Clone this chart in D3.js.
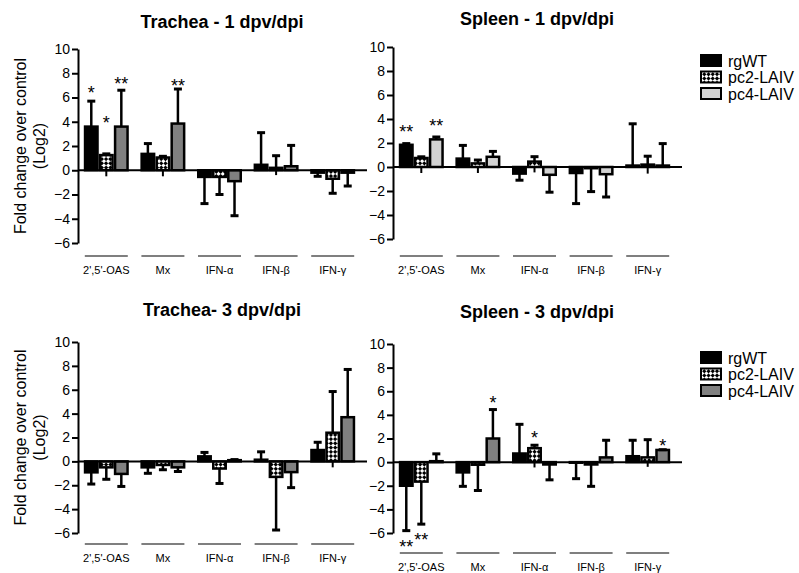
<!DOCTYPE html>
<html>
<head>
<meta charset="utf-8">
<script src="https://cdn.jsdelivr.net/npm/d3@7"></script>
<style>
  body { margin: 0; background: #fff; }
  text { font-family: "Liberation Sans", Arial, sans-serif; }
</style>
</head>
<body>
<div id="chart"></div>
<script>
var categories = ["2',5'-OAS", "Mx", "IFN-\u03b1", "IFN-\u03b2", "IFN-\u03b3"];
var series = ["rgWT", "pc2-LAIV", "pc4-LAIV"];
var yTicks = [10, 8, 6, 4, 2, 0, -2, -4, -6];

// Trachea - 1 dpv/dpi  (rows: rgWT, pc2-LAIV, pc4-LAIV)
var trachea1Mean = [
    [3.6, 1.35, -0.55, 0.45, -0.2],
    [1.25, 1.05, -0.55, 0.2, -0.7],
    [3.6, 3.85, -0.9, 0.33, -0.2]
];
var trachea1Err = [
    [5.7, 2.2, -2.75, 3.1, -0.5],
    [1.35, 1.15, -2.0, 1.2, -1.9],
    [6.6, 6.7, -3.75, 2.05, -1.3]
];
var trachea1Tail = [null, null, null, null, null, -0.5, -0.5, null, -0.4, null];
// stars: [series index, category index, label, y value]
var trachea1Stars = [[0, 0, "*", 6.8], [1, 0, "*", 4.35], [2, 0, "**", 7.5], [2, 1, "**", 7.35]];

// Spleen - 1 dpv/dpi
var spleen1Mean = [
    [1.85, 0.7, -0.55, -0.5, 0.12],
    [0.75, 0.3, 0.45, -0.1, 0.2],
    [2.3, 0.85, -0.65, -0.6, 0.12]
];
var spleen1Err = [
    [1.95, 1.8, -1.1, -3.05, 3.6],
    [0.85, 0.58, 0.86, -2.05, 0.9],
    [2.5, 1.3, -2.1, -2.5, 1.95]
];
var spleen1Tail = [null, null, null, null, null, -0.5, -0.5, -0.45, null, -0.55];
var spleen1Stars = [[0, 0, "**", 3.3], [2, 0, "**", 3.8]];

// Trachea- 3 dpv/dpi
var trachea3Mean = [
    [-0.92, -0.5, 0.42, 0.14, 0.95],
    [-0.5, -0.3, -0.6, -1.3, 2.4],
    [-1.05, -0.5, 0.1, -0.9, 3.7]
];
var trachea3Err = [
    [-1.9, -1.0, 0.75, 0.8, 1.6],
    [-1.5, -0.7, -1.85, -5.75, 5.85],
    [-2.1, -0.85, 0.15, -2.2, 7.7]
];
var trachea3Tail = [null, null, null, null, null, null, null, null, null, -0.5];
var trachea3Stars = [];

// Spleen - 3 dpv/dpi
var spleen3Mean = [
    [-2.0, -0.87, 0.73, -0.05, 0.5],
    [-1.65, -0.22, 1.18, -0.2, 0.4],
    [0.08, 2.0, -0.2, 0.4, 1.03]
];
var spleen3Err = [
    [-5.8, -2.05, 3.2, -1.4, 1.85],
    [-5.25, -2.4, 1.43, -2.05, 1.9],
    [0.7, 4.45, -1.5, 1.85, 1.05]
];
var spleen3Tail = [null, null, null, null, null, null, null, -0.45, null, -0.4];
var spleen3Stars = [[0, 0, "**", -6.8], [1, 0, "**", -6.2], [2, 1, "*", 5.4], [1, 2, "*", 2.45], [2, 4, "*", 1.8]];

var svg = d3.select("#chart").append("svg")
    .attr("width", 799)
    .attr("height", 573);

var defs = svg.append("defs");
var pat = defs.append("pattern")
    .attr("id", "checker")
    .attr("width", 6).attr("height", 6)
    .attr("patternUnits", "userSpaceOnUse")
    .attr("patternTransform", "rotate(45)");
pat.append("rect").attr("width", 6).attr("height", 6).attr("fill", "#fff");
pat.append("rect").attr("width", 3).attr("height", 3).attr("fill", "#000");
pat.append("rect").attr("x", 3).attr("y", 3).attr("width", 3).attr("height", 3).attr("fill", "#000");

function drawPanel(p) {
    var g = svg.append("g");
    var y = d3.scaleLinear().domain([-6, 10]).range([p.yBot, p.yTop]);
    var x = d3.scaleBand().domain(categories).range([p.x0, p.x0 + 283]);
    var xs = d3.scaleBand().domain(series).range([-21.25, 21.25]).paddingInner(0.17);
    var fills = ["#000", "url(#checker)", p.pc4];

    g.append("text")
        .attr("x", p.x0 + 144)
        .attr("y", p.titleY)
        .attr("text-anchor", "middle")
        .style("font-size", "18px")
        .style("font-weight", "bold")
        .text(p.title);

    var axis = g.append("g")
        .attr("transform", "translate(" + p.x0 + ",0)")
        .call(d3.axisLeft(y).tickValues(yTicks).tickSize(6).tickSizeOuter(0).tickPadding(2));
    axis.select(".domain").attr("stroke-width", 2);
    axis.selectAll(".tick line").attr("stroke-width", 2);
    axis.selectAll(".tick text")
        .style("font-size", "14px")
        .style("font-family", "'Liberation Sans', Arial, sans-serif");

    function cx(si, ci) {
        return x(categories[ci]) + x.bandwidth() / 2 + xs(series[si]) + xs.bandwidth() / 2;
    }

    // whisker tails (no cap) from the zero line
    p.tail.forEach(function(t, k) {
        if (t === null) return;
        var si = Math.floor(k / 5), ci = k % 5;
        g.append("line")
            .attr("x1", cx(si, ci)).attr("x2", cx(si, ci))
            .attr("y1", y(0)).attr("y2", y(t))
            .attr("stroke", "#000").attr("stroke-width", 2);
    });

    series.forEach(function(s, si) {
        g.selectAll(".bar" + si)
            .data(p.mean[si])
            .enter().append("rect")
            .attr("x", function(d, ci) { return x(categories[ci]) + x.bandwidth() / 2 + xs(s); })
            .attr("width", xs.bandwidth())
            .attr("y", function(d) { return y(Math.max(d, 0)); })
            .attr("height", function(d) { return Math.abs(y(d) - y(0)); })
            .attr("fill", fills[si])
            .attr("stroke", "#000")
            .attr("stroke-width", 2.5);

        g.selectAll(".err" + si)
            .data(p.err[si])
            .enter().append("line")
            .attr("x1", function(d, ci) { return cx(si, ci); })
            .attr("x2", function(d, ci) { return cx(si, ci); })
            .attr("y1", function(d, ci) { return y(p.mean[si][ci]); })
            .attr("y2", function(d) { return y(d); })
            .attr("stroke", "#000").attr("stroke-width", 2.5);

        g.selectAll(".cap" + si)
            .data(p.err[si])
            .enter().append("line")
            .attr("x1", function(d, ci) { return cx(si, ci) - 4; })
            .attr("x2", function(d, ci) { return cx(si, ci) + 4; })
            .attr("y1", function(d) { return y(d); })
            .attr("y2", function(d) { return y(d); })
            .attr("stroke", "#000").attr("stroke-width", 3);
    });

    g.append("line")
        .attr("x1", p.x0).attr("x2", p.x0 + 289)
        .attr("y1", y(0)).attr("y2", y(0))
        .attr("stroke", "#000").attr("stroke-width", 2);

    p.stars.forEach(function(st) {
        g.append("text")
            .attr("x", cx(st[0], st[1]))
            .attr("y", y(st[3]) + 11)
            .attr("text-anchor", "middle")
            .style("font-size", "18px")
            .text(st[2]);
    });

    categories.forEach(function(c) {
        var mid = x(c) + x.bandwidth() / 2;
        g.append("line")
            .attr("x1", mid - 21.5).attr("x2", mid + 21.5)
            .attr("y1", p.underY).attr("y2", p.underY)
            .attr("stroke", "#000").attr("stroke-width", 1.2);
        g.append("text")
            .attr("x", mid)
            .attr("y", p.underY + 18)
            .attr("text-anchor", "middle")
            .style("font-size", "11px")
            .text(c);
    });

    if (p.yLabel) {
        var ly = (p.yTop + p.yBot) / 2;
        g.append("text")
            .attr("transform", "translate(26," + ly + ") rotate(-90)")
            .attr("text-anchor", "middle")
            .style("font-size", "16px")
            .text("Fold change over control");
        g.append("text")
            .attr("transform", "translate(45," + ly + ") rotate(-90)")
            .attr("text-anchor", "middle")
            .style("font-size", "16px")
            .text("(Log2)");
    }

    if (p.legendY) {
        series.forEach(function(s, si) {
            var ry = p.legendY + si * 16.5;
            g.append("rect")
                .attr("x", 701).attr("y", ry - 6)
                .attr("width", 20).attr("height", 11)
                .attr("fill", fills[si])
                .attr("stroke", "#000").attr("stroke-width", 2);
            g.append("text")
                .attr("x", 728).attr("y", ry + 5.5)
                .style("font-size", "16px")
                .text(s);
        });
    }
}

drawPanel({title: "Trachea - 1 dpv/dpi", titleY: 28, x0: 78, yTop: 49, yBot: 243, underY: 256,
    mean: trachea1Mean, err: trachea1Err, tail: trachea1Tail, stars: trachea1Stars, pc4: "#808080", yLabel: true});
drawPanel({title: "Spleen - 1 dpv/dpi", titleY: 25, x0: 393, yTop: 47, yBot: 239, underY: 256,
    mean: spleen1Mean, err: spleen1Err, tail: spleen1Tail, stars: spleen1Stars, pc4: "#d3d3d3", legendY: 61});
drawPanel({title: "Trachea- 3 dpv/dpi", titleY: 316, x0: 78, yTop: 342, yBot: 533, underY: 544,
    mean: trachea3Mean, err: trachea3Err, tail: trachea3Tail, stars: trachea3Stars, pc4: "#808080", yLabel: true});
drawPanel({title: "Spleen - 3 dpv/dpi", titleY: 318, x0: 393, yTop: 344, yBot: 533, underY: 553,
    mean: spleen3Mean, err: spleen3Err, tail: spleen3Tail, stars: spleen3Stars, pc4: "#808080", legendY: 358});
</script>
</body>
</html>
